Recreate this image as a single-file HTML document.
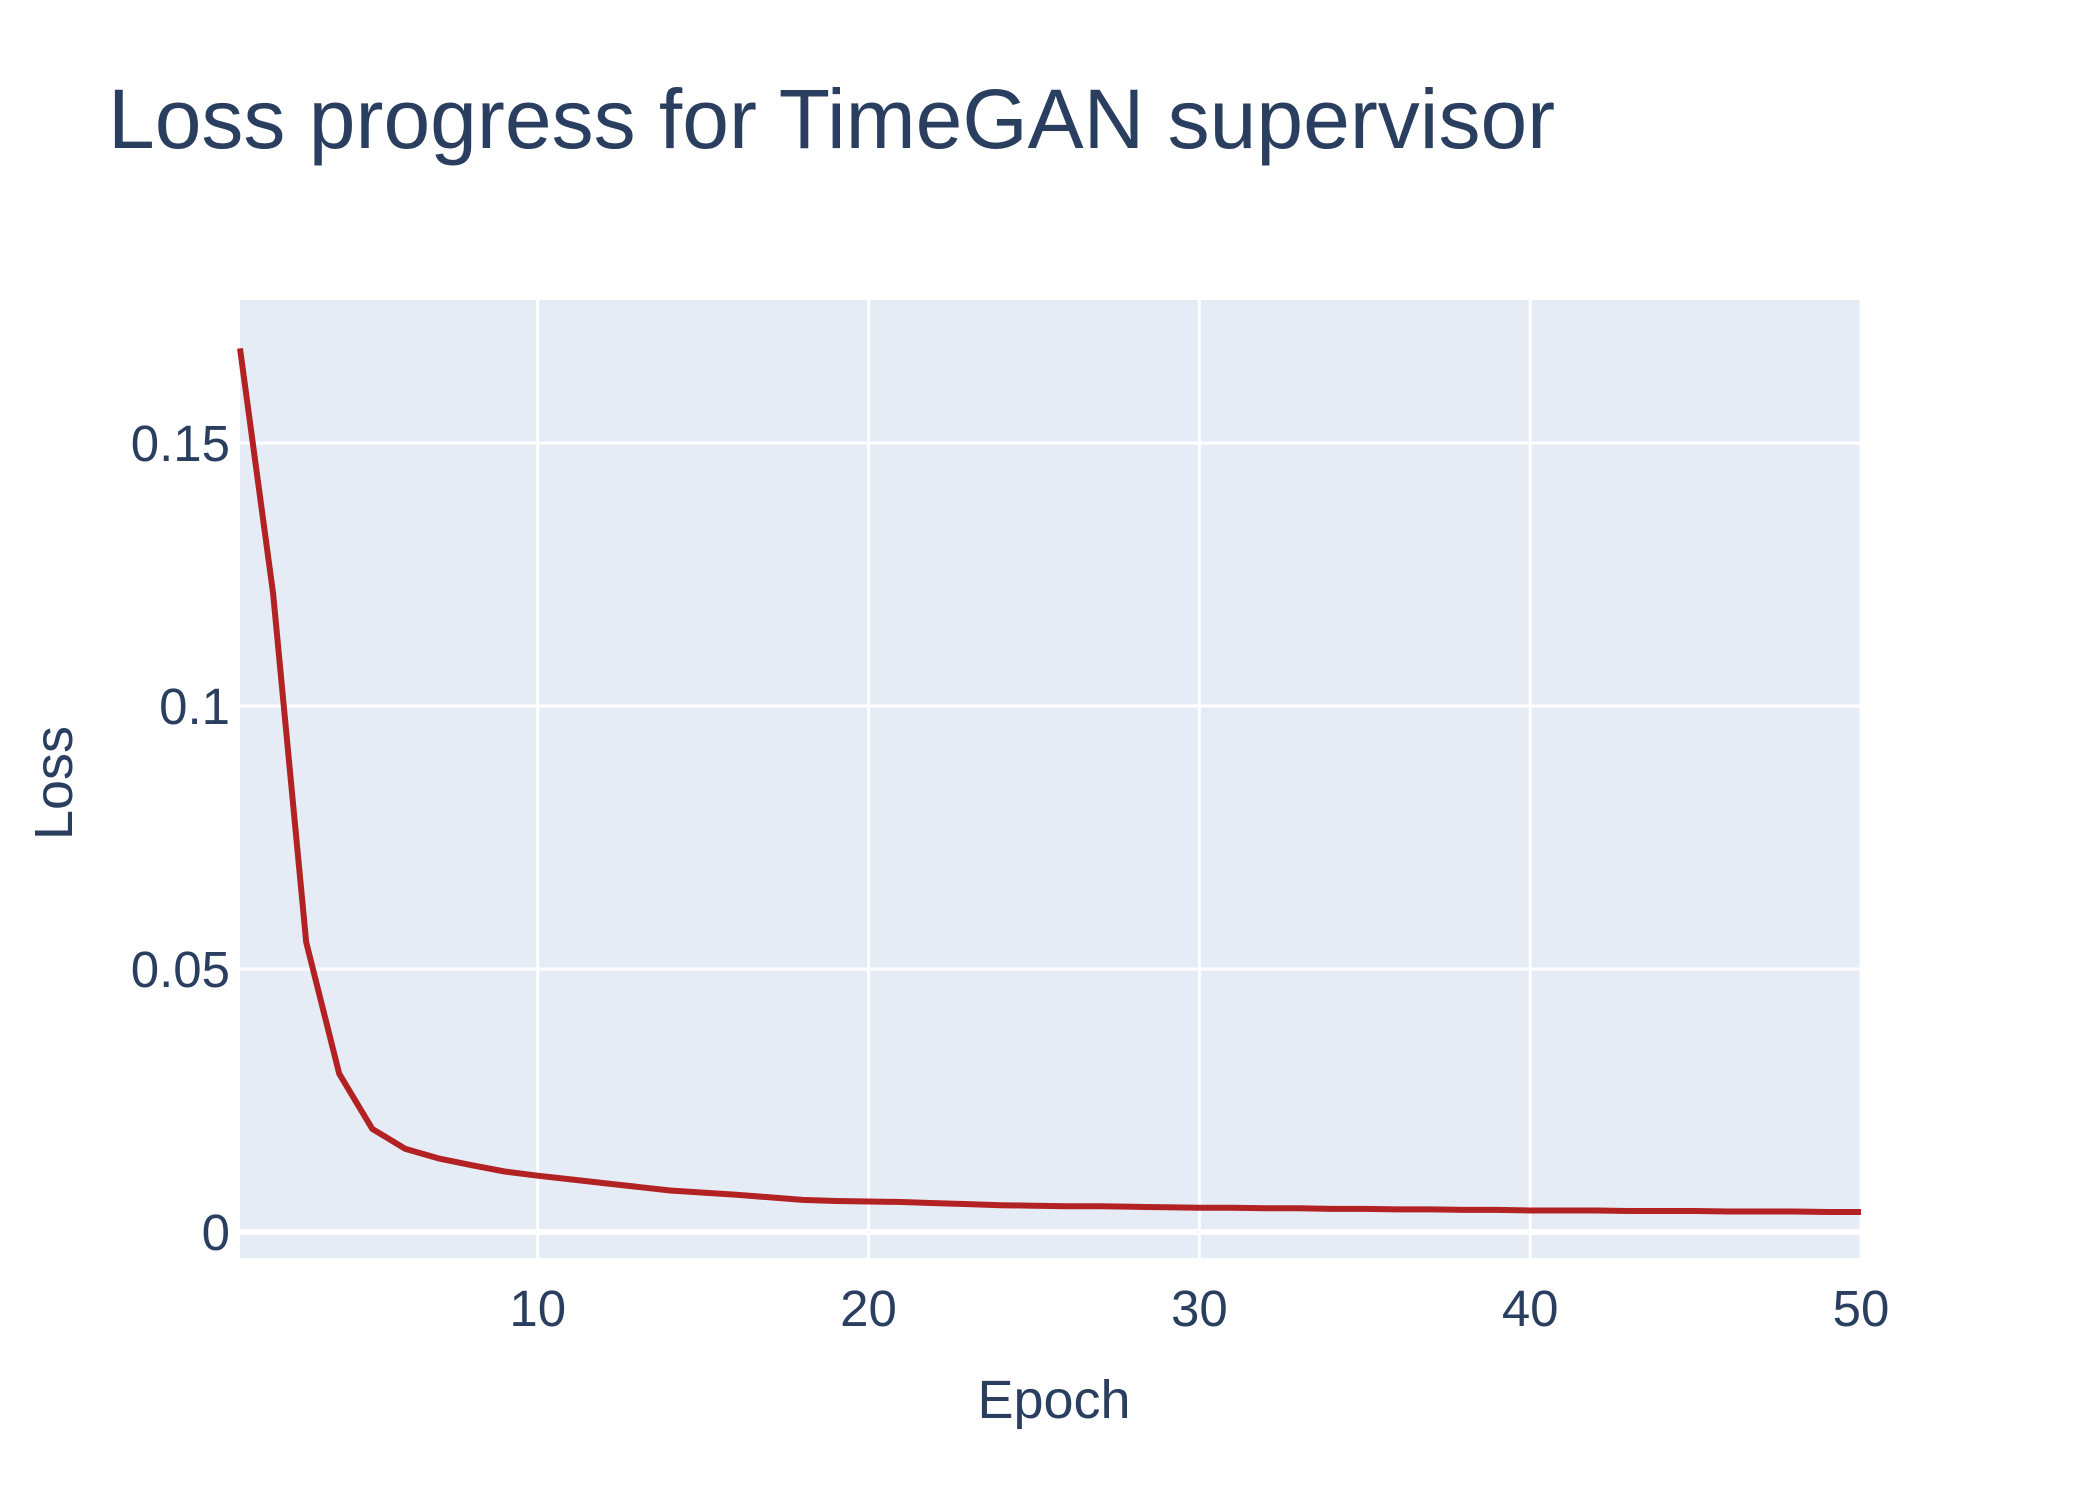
<!DOCTYPE html>
<html><head><meta charset="utf-8"><style>
body{margin:0;background:#fff;}
svg{display:block;font-family:"Liberation Sans",sans-serif;}
</style></head><body>
<svg id="chart" width="2100" height="1500">
<rect width="2100" height="1500" fill="#fff"/>
<text x="108" y="148" font-size="84" fill="#2a3f5f">Loss progress for TimeGAN supervisor</text>
<rect x="240" y="300" width="1621" height="958" fill="#e5ecf6"/>
<g id="grid"></g>
<g id="ticks"></g>
<path id="line" fill="none" stroke="#b22222" stroke-width="6" stroke-linejoin="round"/>
<text x="1054" y="1418" font-size="54" fill="#2a3f5f" text-anchor="middle">Epoch</text>
<text transform="translate(72,783) rotate(-90)" font-size="54" fill="#2a3f5f" text-anchor="middle">Loss</text>
</svg>
<script>
const epochs=[1,2,3,4,5,6,7,8,9,10,11,12,13,14,15,16,17,18,19,20,21,22,23,24,25,26,27,28,29,30,31,32,33,34,35,36,37,38,39,40,41,42,43,44,45,46,47,48,49,50];
const loss=[0.168,0.1214,0.0551,0.0301,0.0196,0.0158,0.0140,0.0127,0.0115,0.0107,0.0100,0.0093,0.0086,0.0079,0.0075,0.0071,0.0066,0.0061,0.0059,0.0058,0.0057,0.0055,0.0053,0.0051,0.0050,0.0049,0.0049,0.0048,0.0047,0.0046,0.0046,0.0045,0.0045,0.0044,0.0044,0.0043,0.0043,0.0042,0.0042,0.0041,0.0041,0.0041,0.0040,0.0040,0.0040,0.0039,0.0039,0.0039,0.0038,0.0038];
const xTicks=[10,20,30,40,50];
const yTicks=[0,0.05,0.1,0.15];
const yTickLabels=["0","0.05","0.1","0.15"];
const L=240,R=1861,T=300,B=1258,x0=1,x1=50,y0=-0.00494,y1=0.1772;
const sx=v=>L+(v-x0)/(x1-x0)*(R-L);
const sy=v=>B-(v-y0)/(y1-y0)*(B-T);
const NS="http://www.w3.org/2000/svg";
const grid=document.getElementById('grid'),ticks=document.getElementById('ticks');
xTicks.forEach(t=>{
 const l=document.createElementNS(NS,'line');
 l.setAttribute('x1',sx(t));l.setAttribute('x2',sx(t));l.setAttribute('y1',T);l.setAttribute('y2',B);
 l.setAttribute('stroke','#fff');l.setAttribute('stroke-width','3');
 
 
 grid.appendChild(l);
 const tx=document.createElementNS(NS,'text');
 tx.setAttribute('x',sx(t));tx.setAttribute('y',1326);tx.setAttribute('font-size','51');
 tx.setAttribute('fill','#2a3f5f');tx.setAttribute('text-anchor','middle');tx.textContent=t;
 
 
 ticks.appendChild(tx);
});
yTicks.forEach((t,i)=>{
 const l=document.createElementNS(NS,'line');
 l.setAttribute('x1',L);l.setAttribute('x2',R);l.setAttribute('y1',sy(t));l.setAttribute('y2',sy(t));
 l.setAttribute('stroke','#fff');l.setAttribute('stroke-width',t===0?'6':'3');
 
 
 grid.appendChild(l);
 const tx=document.createElementNS(NS,'text');
 tx.setAttribute('x',230);tx.setAttribute('y',sy(t)+18);tx.setAttribute('font-size','51');
 tx.setAttribute('fill','#2a3f5f');tx.setAttribute('text-anchor','end');tx.textContent=yTickLabels[i];
 
 
 ticks.appendChild(tx);
});
document.getElementById('line').setAttribute('d',epochs.map((e,i)=>(i?'L':'M')+sx(e).toFixed(1)+','+sy(loss[i]).toFixed(1)).join(''));
</script>
</body></html>
